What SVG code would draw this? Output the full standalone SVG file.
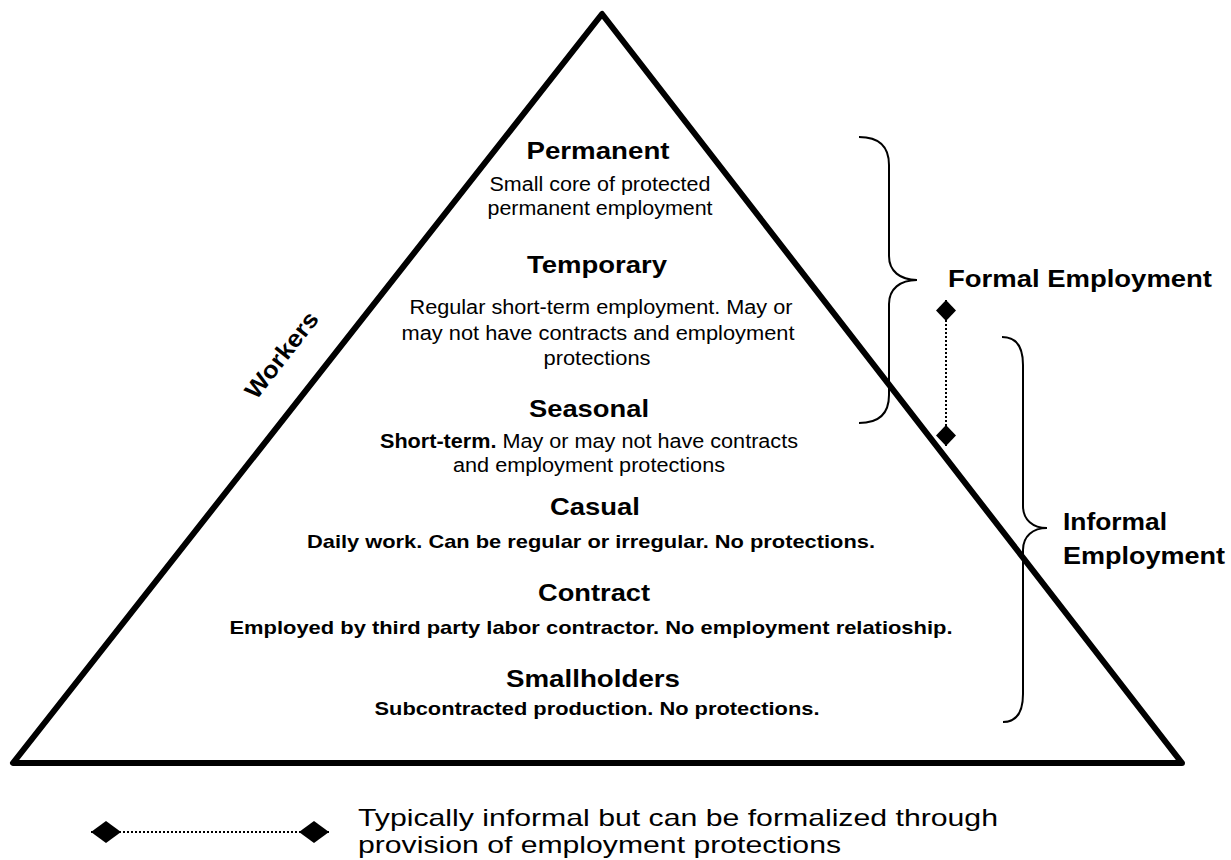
<svg xmlns="http://www.w3.org/2000/svg" width="1231" height="860" viewBox="0 0 1231 860">
<style>
  text { font-family: "Liberation Sans", Arial, sans-serif; fill: #000; }
  .title { font-size: 24px; font-weight: bold; text-anchor: middle; }
  .desc { font-size: 20px; text-anchor: middle; }
  .bdesc { font-size: 19px; font-weight: bold; text-anchor: middle; }
  .side { font-size: 24px; font-weight: bold; }
  .legend { font-size: 24px; }
  .edge { fill: none; stroke: #000; stroke-width: 6; stroke-linejoin: round; }
  .brace { fill: none; stroke: #000; stroke-width: 2; }
  .dotted { fill: none; stroke: #000; stroke-width: 2; stroke-dasharray: 2 2; }
</style>
<defs>
  <marker id="diaH" viewBox="0 -11 30 22" markerUnits="userSpaceOnUse" markerWidth="30" markerHeight="22" refX="30" refY="0" orient="auto-start-reverse">
    <path d="M0,0 L15,-11 L30,0 L15,11 Z" fill="#000"/>
  </marker>
  <marker id="diaV" viewBox="0 -10 21 20" markerUnits="userSpaceOnUse" markerWidth="21" markerHeight="20" refX="21" refY="0" orient="auto-start-reverse">
    <path d="M0,0 L10.5,-10 L21,0 L10.5,10 Z" fill="#000"/>
  </marker>
</defs>
<rect width="1231" height="860" fill="#fff"/>

<g id="pyramid">
  <polygon class="edge" points="602,14 13,763 1182,763"/>
  <text class="side" transform="translate(288,360) rotate(-51.8)" text-anchor="middle" font-size="22" textLength="103" lengthAdjust="spacingAndGlyphs">Workers</text>
</g>

<g id="permanent">
  <text class="title" x="598" y="159" textLength="143" lengthAdjust="spacingAndGlyphs">Permanent</text>
  <text class="desc" x="600" y="191" textLength="221" lengthAdjust="spacingAndGlyphs">Small core of protected</text>
  <text class="desc" x="600" y="215" textLength="225" lengthAdjust="spacingAndGlyphs">permanent employment</text>
</g>

<g id="temporary">
  <text class="title" x="597" y="273" textLength="140" lengthAdjust="spacingAndGlyphs">Temporary</text>
  <text class="desc" x="601" y="314" textLength="383" lengthAdjust="spacingAndGlyphs">Regular short-term employment. May or</text>
  <text class="desc" x="598" y="340" textLength="393" lengthAdjust="spacingAndGlyphs">may not have contracts and employment</text>
  <text class="desc" x="597" y="365" textLength="107" lengthAdjust="spacingAndGlyphs">protections</text>
</g>

<g id="seasonal">
  <text class="title" x="589" y="417" textLength="120" lengthAdjust="spacingAndGlyphs">Seasonal</text>
  <text class="desc" x="589" y="448" textLength="418" lengthAdjust="spacingAndGlyphs"><tspan font-weight="bold">Short-term.</tspan> May or may not have contracts</text>
  <text class="desc" x="589" y="472" textLength="272" lengthAdjust="spacingAndGlyphs">and employment protections</text>
</g>

<g id="casual">
  <text class="title" x="595" y="515" textLength="90" lengthAdjust="spacingAndGlyphs">Casual</text>
  <text class="bdesc" x="591" y="548" textLength="568" lengthAdjust="spacingAndGlyphs">Daily work. Can be regular or irregular. No protections.</text>
</g>

<g id="contract">
  <text class="title" x="594" y="601" textLength="112" lengthAdjust="spacingAndGlyphs">Contract</text>
  <text class="bdesc" x="591" y="634" textLength="723" lengthAdjust="spacingAndGlyphs">Employed by third party labor contractor. No employment relatioship.</text>
</g>

<g id="smallholders">
  <text class="title" x="593" y="687" textLength="174" lengthAdjust="spacingAndGlyphs">Smallholders</text>
  <text class="bdesc" x="597" y="715" textLength="445" lengthAdjust="spacingAndGlyphs">Subcontracted production. No protections.</text>
</g>

<g id="formal-employment">
  <path class="brace" d="M859,137 C878,137 889,146 889,165 L889,256 C889,271 900,280 917,280 C900,280 889,289 889,304 L889,395 C889,414 878,423 859,423"/>
  <text class="side" x="948" y="287" textLength="264" lengthAdjust="spacingAndGlyphs">Formal Employment</text>
</g>

<g id="informal-employment">
  <path class="brace" d="M1002,337 C1016,337 1023,346 1023,365 L1023,506 C1023,520 1033,528 1047,528 C1033,528 1023,536 1023,550 L1023,694 C1023,713 1016,722 1003,722"/>
  <text class="side" x="1063" y="530" textLength="104" lengthAdjust="spacingAndGlyphs">Informal</text>
  <text class="side" x="1063" y="564" textLength="162" lengthAdjust="spacingAndGlyphs">Employment</text>
</g>

<g id="connectors">
  <line class="dotted" x1="946" y1="300" x2="946" y2="446" marker-start="url(#diaV)" marker-end="url(#diaV)"/>
  <line class="dotted" x1="91" y1="832" x2="329" y2="832" marker-start="url(#diaH)" marker-end="url(#diaH)"/>
</g>

<g id="legend">
  <text class="legend" x="358" y="826" textLength="640" lengthAdjust="spacingAndGlyphs">Typically informal but can be formalized through</text>
  <text class="legend" x="358" y="853" textLength="483" lengthAdjust="spacingAndGlyphs">provision of employment protections</text>
</g>
</svg>
